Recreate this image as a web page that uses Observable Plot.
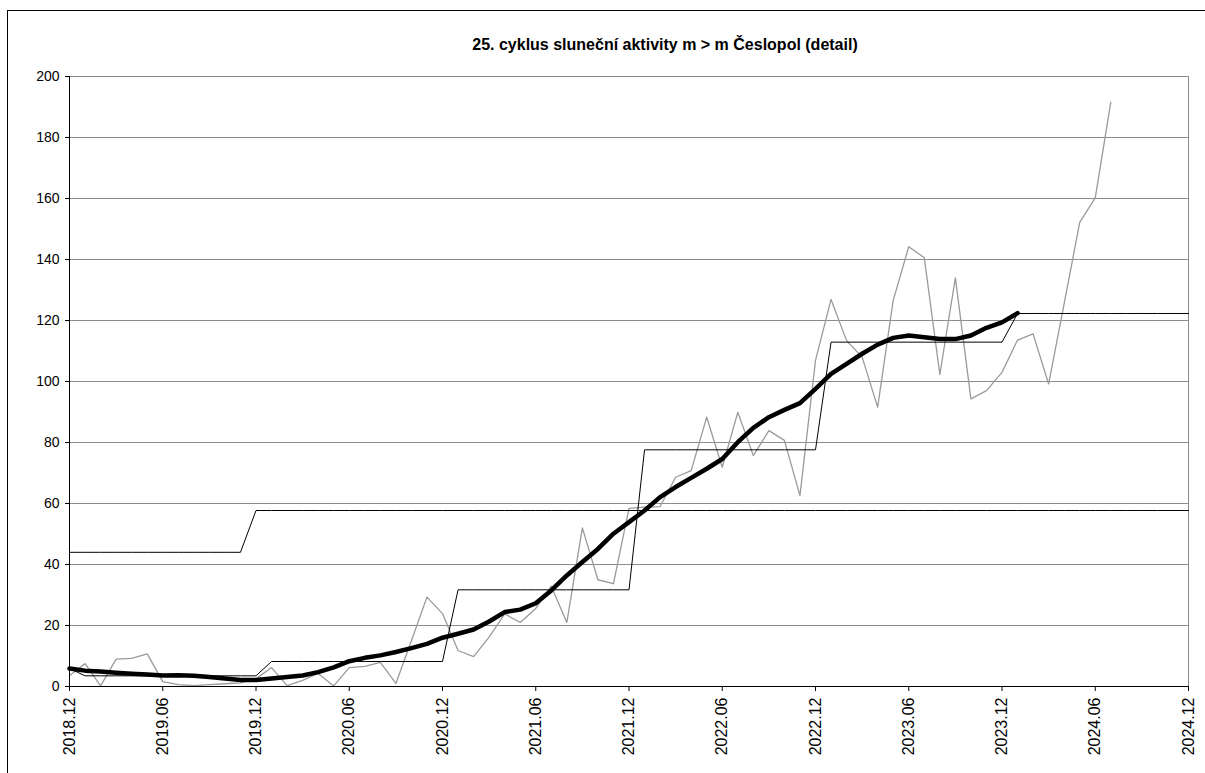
<!DOCTYPE html>
<html>
<head>
<meta charset="utf-8">
<script src="https://cdn.jsdelivr.net/npm/d3@7"></script>
<script src="https://cdn.jsdelivr.net/npm/@observablehq/plot@0.6"></script>
<style>
  html, body { margin: 0; padding: 0; background: #fff; }
  #wrap { position: relative; width: 1205px; height: 773px; overflow: hidden; background: #fff; font-family: "Liberation Sans", Arial, sans-serif; }
  #frame { position: absolute; left: 7px; top: 10px; width: 1300px; height: 900px; border: 1px solid #000; box-sizing: border-box; pointer-events: none; }
  #title { position: relative; width: 1330px; height: 60px; text-align: center; font-weight: bold; font-size: 16px; line-height: 16px; padding-top: 37px; box-sizing: border-box; color: #000; }
  #chart { position: relative; }
</style>
</head>
<body>
<div id="wrap">
  <div id="frame"></div>
  <div id="title">25. cyklus sluneční aktivity m &gt; m Česlopol (detail)</div>
  <div id="chart"></div>
</div>
<script>
// x = month index, 0 = 2018.12, 72 = 2024.12
const tickLabels = ["2018.12","2019.06","2019.12","2020.06","2020.12","2021.06","2021.12",
                    "2022.06","2022.12","2023.06","2023.12","2024.06","2024.12"];
const tickPositions = [0, 6, 12, 18, 24, 30, 36, 42, 48, 54, 60, 66, 72];

// monthly values (grey), from 2018.12 to 2024.07
const monthly = [3.5, 7.5, 0.2, 9.0, 9.2, 10.7, 1.6, 0.6, 0.3, 0.6, 0.9, 1.2,
  2.5, 6.2, 0.3, 2.0, 4.3, 0.2, 6.2, 6.6, 7.9, 1.0, 15.0, 29.3,
  23.9, 11.8, 9.8, 16.2, 23.8, 21.0, 25.6, 32.9, 21.0, 52.0, 35.0, 33.7,
  58.4, 58.8, 59.0, 68.6, 70.8, 88.3, 71.9, 89.9, 75.7, 83.9, 80.7, 62.6,
  106.9, 126.9, 113.4, 108.0, 91.6, 126.6, 144.2, 140.6, 102.3, 134.0, 94.3, 97.0,
  103.0, 113.6, 115.6, 99.2, 125.5, 152.2, 160.2, 191.6];

// smoothed values (thick black), from 2018.12 to 2024.01
const smoothed = [5.9, 5.2, 4.9, 4.5, 4.2, 3.9, 3.6, 3.7, 3.5, 3.1, 2.6, 2.1,
  2.1, 2.6, 3.1, 3.6, 4.7, 6.3, 8.3, 9.4, 10.2, 11.3, 12.6, 14.0,
  16.0, 17.3, 18.7, 21.3, 24.4, 25.2, 27.3, 31.5, 36.4, 40.8, 45.1, 50.1,
  53.9, 57.7, 62.1, 65.4, 68.4, 71.4, 74.6, 80.1, 84.8, 88.3, 90.7, 92.9,
  97.6, 102.5, 105.8, 109.1, 112.1, 114.3, 115.1, 114.5, 113.9, 113.9, 115.1, 117.6,
  119.4, 122.4];

// step line A: value holds from the given month index onward
const stepAStarts = [0, 12];
const stepAValues = [44.0, 57.7];
// step line B
const stepBStarts = [0, 1, 13, 25, 37, 49, 61];
const stepBValues = [5.9, 3.5, 8.2, 31.7, 77.6, 112.9, 122.3];
const lastMonth = 72;

function expandSteps(starts, values) {
  const out = [];
  for (let i = 0; i <= lastMonth; i++) {
    let k = 0;
    for (let j = 0; j < starts.length; j++) if (starts[j] <= i) k = j;
    out.push({m: i, v: values[k]});
  }
  return out;
}
const monthlyData = monthly.map((v, i) => ({m: i, v}));
const smoothedData = smoothed.map((v, i) => ({m: i, v}));
const stepA = expandSteps(stepAStarts, stepAValues);
const stepB = expandSteps(stepBStarts, stepBValues);

const chart = Plot.plot({
  width: 1205,
  height: 713,
  marginLeft: 69,
  marginRight: 17,
  marginTop: 16,
  marginBottom: 87,
  style: {fontFamily: "'Liberation Sans', Arial, sans-serif", fontSize: "14px", color: "#000", background: "transparent", overflow: "visible"},
  x: {domain: [0, lastMonth]},
  y: {domain: [0, 200]},
  marks: [
    Plot.gridY(d3.range(20, 201, 20), {stroke: "#8c8c8c", strokeOpacity: 1, strokeWidth: 1}),
    Plot.ruleX([lastMonth], {stroke: "#8c8c8c", strokeWidth: 1}),
    Plot.line(monthlyData, {x: "m", y: "v", stroke: "#9a9a9a", strokeWidth: 1.3}),
    Plot.line(stepA, {x: "m", y: "v", stroke: "#000", strokeWidth: 1}),
    Plot.line(stepB, {x: "m", y: "v", stroke: "#000", strokeWidth: 1}),
    Plot.line(smoothedData, {x: "m", y: "v", stroke: "#000", strokeWidth: 4.5, strokeLinejoin: "round", strokeLinecap: "round"}),
    Plot.ruleX([0], {stroke: "#000", strokeWidth: 1}),
    Plot.ruleY([0], {stroke: "#000", strokeWidth: 1}),
    Plot.axisY({ticks: d3.range(0, 201, 20), tickSize: 4, tickPadding: 6, label: null, fontSize: 14}),
    Plot.axisX({ticks: tickPositions, tickFormat: (d) => tickLabels[tickPositions.indexOf(d)], tickSize: 5, tickPadding: 6, tickRotate: -90, label: null, fontSize: 16})
  ]
});
document.getElementById("chart").appendChild(chart);
</script>
</body>
</html>
